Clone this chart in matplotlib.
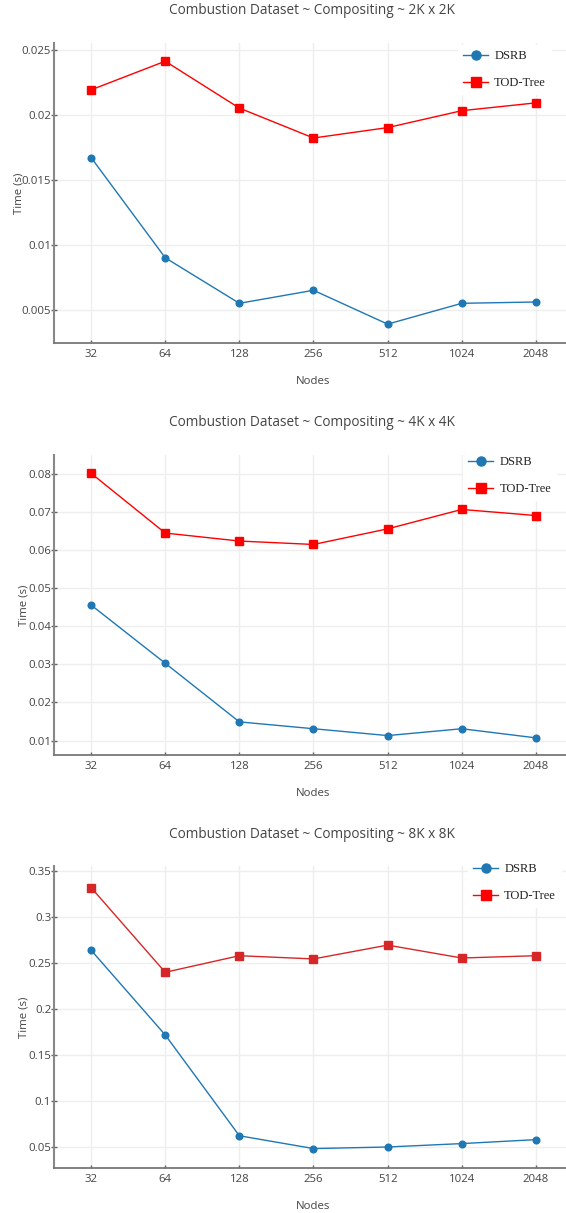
from matplotlib import pyplot as plt
from matplotlib.lines import Line2D

plt.rcParams['font.family'] = ['Open Sans', 'DejaVu Sans']

nodes = ['32', '64', '128', '256', '512', '1024', '2048']

# compositing time (s) for each image resolution
dsrb_2k = [0.0167, 0.0090, 0.0055, 0.0065, 0.0039, 0.0055, 0.0056]
tod_2k = [0.0219, 0.0241, 0.0205, 0.0182, 0.0190, 0.0203, 0.0209]

dsrb_4k = [0.0456, 0.0303, 0.0149, 0.0131, 0.0113, 0.0131, 0.0107]
tod_4k = [0.0802, 0.0645, 0.0624, 0.0615, 0.0656, 0.0707, 0.0691]

dsrb_8k = [0.264, 0.172, 0.0625, 0.0486, 0.0503, 0.0540, 0.0583]
tod_8k = [0.332, 0.240, 0.258, 0.2545, 0.2695, 0.2555, 0.258]

yticks_2k = [0.005, 0.01, 0.015, 0.02, 0.025]
yticks_4k = [0.01, 0.02, 0.03, 0.04, 0.05, 0.06, 0.07, 0.08]
yticks_8k = [0.05, 0.1, 0.15, 0.2, 0.25, 0.3, 0.35]

W, H = 566, 1213
BLUE = '#1f77b4'
TEXT = '#444444'


def fmt(v):
    return ('%g' % v)


def panel(fig, top, bottom, title, title_y, dsrb, tod, ylim, yticks,
          tod_color, leg_x, leg_y, ylab_x):
    ax = fig.add_axes([54 / W, 1 - bottom / H, 519 / W, (bottom - top) / H])
    x = range(len(nodes))
    ax.plot(x, dsrb, '-o', color=BLUE, lw=1, ms=4.8, zorder=3)
    ax.plot(x, tod, '-s', color=tod_color, lw=1, ms=5.2, zorder=3)

    ax.set_xlim(-0.5, len(nodes) - 0.5)
    ax.set_ylim(*ylim)
    ax.set_xticks(list(x))
    ax.set_xticklabels(nodes)
    ax.set_yticks(yticks)
    ax.set_yticklabels([fmt(v) for v in yticks])
    ax.grid(True, color='#eeeeee', lw=1)
    ax.set_axisbelow(True)

    for s in ['top', 'right']:
        ax.spines[s].set_visible(False)
    ax.spines['left'].set_color('#888888')
    ax.spines['left'].set_linewidth(1.5)
    ax.spines['bottom'].set_color('#777777')
    ax.spines['bottom'].set_linewidth(1.3)

    ax.tick_params(axis='y', direction='inout', length=4, width=1, color='#666666',
                   pad=0, labelsize=8.2, labelcolor=TEXT)
    ax.tick_params(axis='x', direction='in', length=2, width=1, color='#666666',
                   pad=4, labelsize=8.2, labelcolor=TEXT)

    ax.set_xlabel('Nodes', fontsize=8.2, color=TEXT, labelpad=12)
    ax.set_ylabel('Time (s)', fontsize=8.2, color=TEXT)
    ax.yaxis.set_label_coords((ylab_x - 54) / 519, 0.5)

    fig.text(312 / W, 1 - title_y / H, title, ha='center', va='center',
             fontsize=9.8, color=TEXT)

    handles = [
        Line2D([], [], color=BLUE, marker='o', lw=1, ms=6.5),
        Line2D([], [], color='red', marker='s', lw=1, ms=6.5),
    ]
    leg = ax.legend(handles, ['DSRB', 'TOD-Tree'], loc='upper left',
                    bbox_to_anchor=(leg_x / W, 1 - leg_y / H),
                    bbox_transform=fig.transFigure,
                    prop={'family': 'Liberation Serif', 'size': 9},
                    handlelength=2.0, handletextpad=0.5, labelspacing=1.2,
                    borderpad=0.4, borderaxespad=0, frameon=True,
                    fancybox=False)
    leg.get_frame().set_facecolor('white')
    leg.get_frame().set_edgecolor('white')
    leg.get_frame().set_alpha(1)
    for t in leg.get_texts():
        t.set_color('#222222')
    return ax


fig = plt.figure(figsize=(W / 100, H / 100), dpi=100)

panel(fig, 43, 343, 'Combustion Dataset ~ Compositing ~ 2K x 2K', 10,
      dsrb_2k, tod_2k, (0.00245, 0.0255), yticks_2k, 'red', 458, 45, 24)
panel(fig, 455, 755, 'Combustion Dataset ~ Compositing ~ 4K x 4K', 422,
      dsrb_4k, tod_4k, (0.0062, 0.085), yticks_4k, 'red', 463, 451, 29)
panel(fig, 866, 1168, 'Combustion Dataset ~ Compositing ~ 8K x 8K', 834,
      dsrb_8k, tod_8k, (0.0275, 0.3554), yticks_8k, '#d62728', 468, 858, 29)

plt.savefig('out.png', dpi=100)
